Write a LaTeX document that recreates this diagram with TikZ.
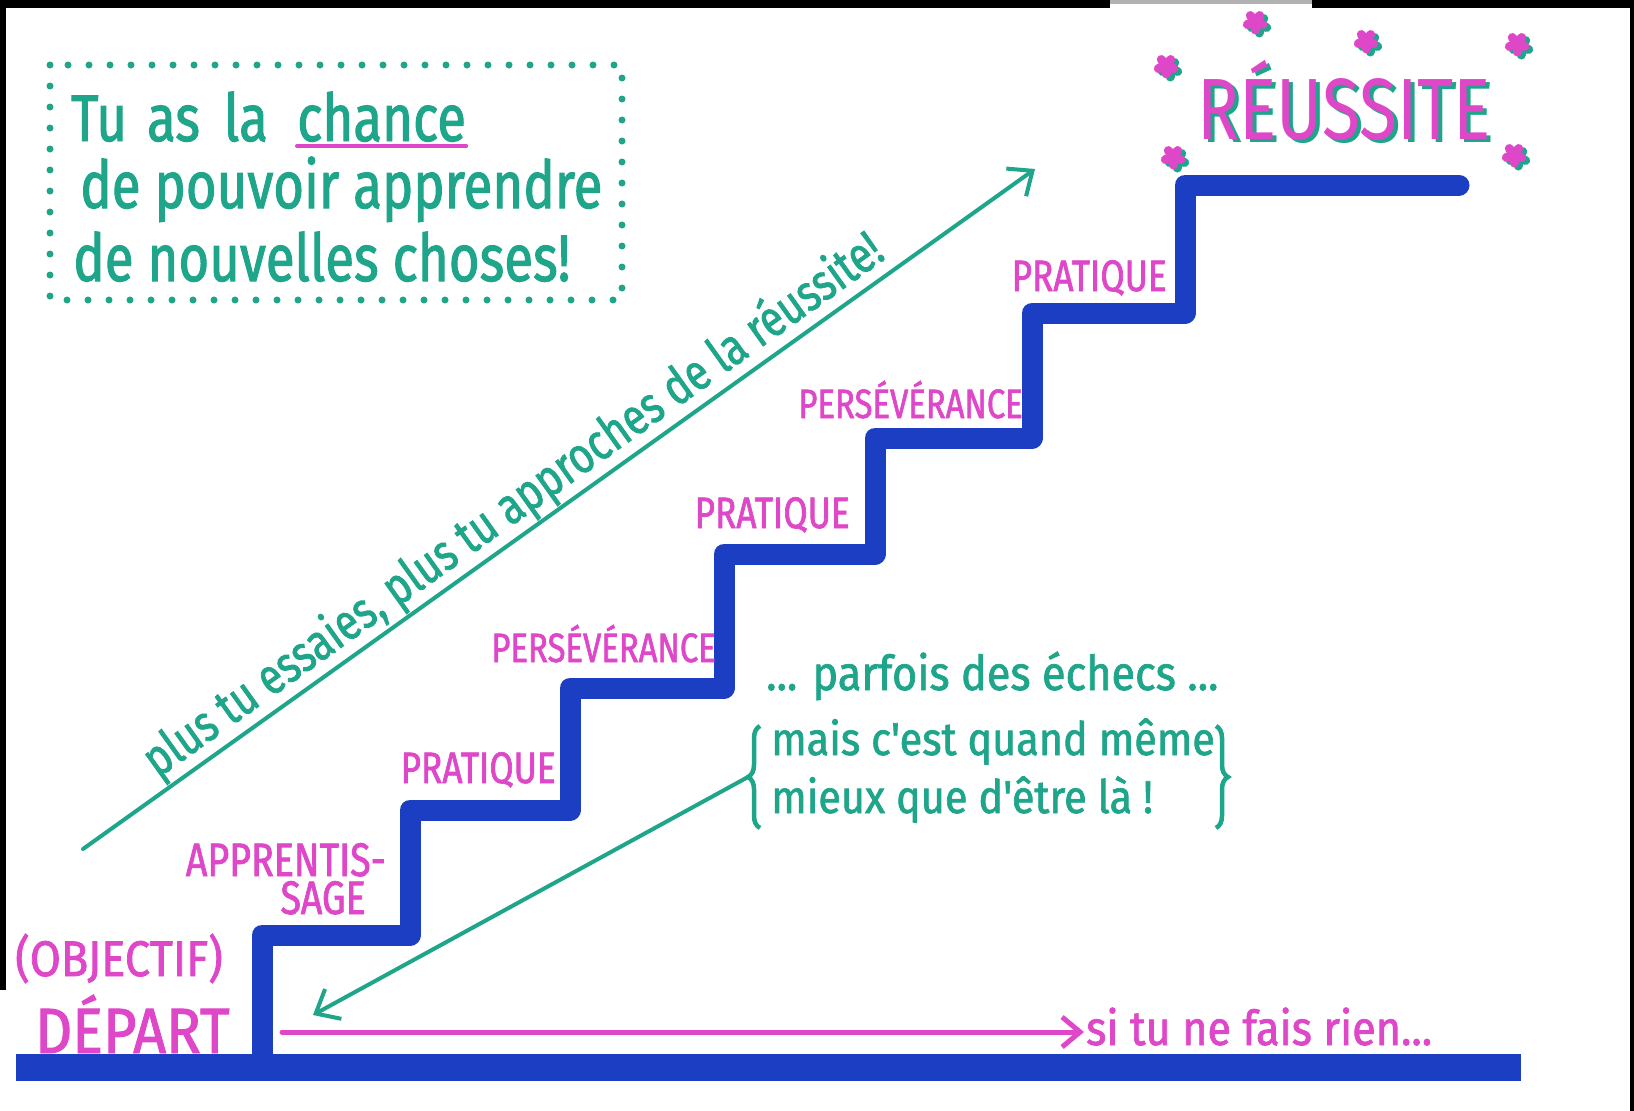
\documentclass[tikz,border=0pt]{standalone}
\usepackage{fontspec}
\setmainfont{Fira Sans}
\newfontfamily\hand{Fira Sans}[FakeStretch=0.8, FakeBold=1.5]
\newfontfamily\handw{Fira Sans}[FakeStretch=0.9, FakeBold=1.5]
\newfontfamily\handt{Fira Sans}[FakeStretch=0.8]
\usetikzlibrary{arrows.meta,decorations.pathreplacing}
\definecolor{mgreen}{RGB}{30,165,138}
\definecolor{mmag}{RGB}{222,72,200}
\definecolor{mblue}{RGB}{28,62,194}
\begin{document}
\begin{tikzpicture}[x=1pt,y=-1pt,
  stair/.style={draw=mblue, line width=21, line join=round, line cap=round},
  floor/.style={draw=mblue, line width=27, line cap=butt},
  garrow/.style={draw=mgreen, line width=4, line cap=round, -{Straight Barb[length=20,width=34]}},
  marrow/.style={draw=mmag, line width=5, line cap=round, -{Straight Barb[length=18,width=30]}},
  gtext/.style={text=mgreen, inner sep=0},
  lab/.style={text=mmag, inner sep=0, font=\hand\fontsize{44}{44}\selectfont},
  labp/.style={text=mmag, inner sep=0, font=\hand\fontsize{41}{41}\selectfont},
  starm/.style={draw=mmag, line width=9, line cap=round},
  starg/.style={draw=mgreen, line width=9, line cap=round},
  dotbox/.style={draw=mgreen, line width=7, dash pattern=on 0pt off 21pt, line cap=round},
  gbrace/.style={draw=mgreen, line width=4.5, decorate, decoration={brace, amplitude=12}}
]
\useasboundingbox (0,0) rectangle (1634,1111);
% scan frame
\fill[black] (0,0) rectangle (1110,8);
\fill[black] (1312,0) rectangle (1634,8);
\fill[black!30] (1110,0) rectangle (1312,4);
\fill[black] (0,0) rectangle (6,990);
\fill[black] (1630,0) rectangle (1634,1111);

% dotted box with text
\draw[dotbox] (50,65) rectangle (622,300);
\node[gtext, font=\hand\fontsize{66}{66}\selectfont, anchor=base west] (t1) at (71,141) {Tu\hspace{20pt}as\hspace{24pt}la};
\node[gtext, font=\hand\fontsize{66}{66}\selectfont, anchor=base west] (chance) at (297,141) {chance};
\draw[mmag, line width=4, line cap=round] ([yshift=-5]chance.base west) -- ([yshift=-5]chance.base east);
\node[gtext, font=\hand\fontsize{66}{66}\selectfont, anchor=base west] (t2) at (80,208) {de pouvoir apprendre};
\node[gtext, font=\hand\fontsize{66}{66}\selectfont, anchor=base west] (t3) at (73,281) {de nouvelles choses!};

% staircase
\draw[floor] (16,1067) -- (1521,1067);
\draw[stair] (262,1067) -- (262,935) -- (410,935) -- (410,810) -- (570,810) -- (570,688)
  -- (724,688) -- (724,554) -- (875,554) -- (875,438) -- (1032,438) -- (1032,313)
  -- (1185,313) -- (1185,185) -- (1459,185);

% step labels
\node[lab, anchor=base east, font=\hand\fontsize{47}{47}\selectfont] (appr) at (386,876) {APPRENTIS-};
\node[lab, anchor=base east, font=\hand\fontsize{47}{47}\selectfont] (sage) at (366,914) {SAGE};
\node[lab, anchor=base east] (prat1) at (556,783) {PRATIQUE};
\node[labp, anchor=base east] (pers1) at (716,662) {PERSÉVÉRANCE};
\node[lab, anchor=base east] (prat2) at (850,528) {PRATIQUE};
\node[labp, anchor=base east] (pers2) at (1023,418) {PERSÉVÉRANCE};
\node[lab, anchor=base east] (prat3) at (1167,291) {PRATIQUE};

\node[lab, anchor=base west, font=\handw\fontsize{50}{50}\selectfont] (objectif) at (15,976) {(OBJECTIF)};
\node[lab, anchor=base west, font=\handw\fontsize{64}{64}\selectfont] (depart) at (35,1053) {DÉPART};

% success title with shadow
\node[anchor=base west, inner sep=0, text=mgreen, font=\handt\fontsize{87}{87}\selectfont] (reussiteS) at (1201,142) {RÉUSSITE};
\node[anchor=base west, inner sep=0, text=mmag, font=\handt\fontsize{87}{87}\selectfont] (reussite) at (1197,139) {RÉUSSITE};
\foreach \sx/\sy in {1255/22, 1366/41, 1517/44, 1166/66, 1173/157, 1514/155}{
  \foreach \a in {90,162,234,306,18}{
    \draw[starg] (\sx+4,\sy+3) -- ++(\a:8);
  }
  \foreach \a in {90,162,234,306,18}{
    \draw[starm] (\sx,\sy) -- ++(\a:8);
  }
}

% rising arrow
\coordinate (upS) at (83,849);
\coordinate (upE) at (1035,169);
\draw[garrow] (upS) -- node[sloped, above=1, pos=0.47, text=mgreen, inner sep=0, font=\hand\fontsize{51}{51}\selectfont] (plus) {plus tu essaies, plus tu approches de la réussite!} (upE);

% failures
\node[gtext, anchor=base west, font=\handw\fontsize{48}{48}\selectfont] (parfois) at (766,690) {... parfois des échecs ...};
\node[gtext, anchor=base west, font=\handw\fontsize{46}{46}\selectfont] (mais) at (771,755) {mais c'est quand même};
\node[gtext, anchor=base west, font=\handw\fontsize{46}{46}\selectfont] (mieux) at (771,813) {mieux que d'être là !};
\draw[gbrace] (760,828) -- coordinate[pos=0.5, xshift=-12] (btip) (760,726);
\draw[gbrace] (1216,726) -- (1216,828);
\coordinate (dn) at (313,1015);
\draw[garrow] (btip) -- (dn);

% doing nothing
\node[text=mmag, anchor=base west, inner sep=2, font=\handw\fontsize{48}{48}\selectfont] (rien) at (1084,1045) {si tu ne fais rien...};
\coordinate (mS) at (282,1032);
\draw[marrow] (mS) -- (mS -| rien.west);
\end{tikzpicture}
\end{document}
